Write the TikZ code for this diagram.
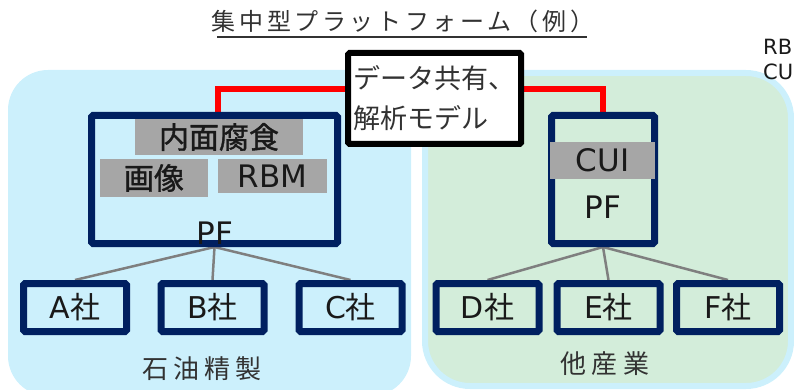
\documentclass[tikz,border=0pt]{standalone}
\usepackage{fontspec}
\setmainfont{Noto Sans CJK JP}
\newfontfamily\lat{DejaVu Sans}
\newfontfamily\semib[FakeBold=1.2]{Noto Sans CJK JP}
\newfontfamily\spaced[LetterSpace=20]{Noto Sans CJK JP}
\newfontfamily\tspaced[LetterSpace=15]{Noto Sans CJK JP}
\usetikzlibrary{calc}
\pgfdeclarelayer{back}
\pgfdeclarelayer{mid}
\pgfsetlayers{back,mid,main}
\definecolor{regblue}{RGB}{204,240,252}
\definecolor{reggreen}{RGB}{211,237,218}
\definecolor{navy}{RGB}{0,32,96}
\definecolor{tagcol}{RGB}{166,166,166}
\definecolor{linkcol}{RGB}{127,127,127}
\definecolor{ink}{RGB}{25,25,25}
\definecolor{soft}{RGB}{50,50,50}
\begin{document}
\begin{tikzpicture}[x=1pt,y=-1pt,
  pfbox/.style={draw=navy,line width=7pt,rounded corners=1.5pt,minimum height=128pt,inner sep=0pt},
  cobox/.style={draw=navy,line width=7pt,rounded corners=1.5pt,minimum width=103pt,minimum height=48pt,inner sep=0pt,text=ink,font=\fontsize{30}{32}\selectfont},
  tagbox/.style={fill=tagcol,inner sep=0pt,text=ink,font=\semib\fontsize{30}{32}\selectfont},
  sharebox/.style={draw=black,fill=white,line width=6pt,rounded corners=1.5pt,minimum width=173pt,minimum height=91pt,inner sep=0pt,align=left,text=soft,font=\fontsize{27}{40}\selectfont},
  feed/.style={draw=linkcol,line width=2.5pt},
  datalink/.style={draw=red,line width=6pt},
  pflabel/.style={text=ink,font=\lat\fontsize{31}{32}\selectfont,inner sep=0pt},
  region/.style={text=soft,font=\spaced\fontsize{26}{28}\selectfont,inner sep=0pt}
]
\useasboundingbox (0,0) rectangle (794,390);
% regions
\begin{pgfonlayer}{back}
\fill[regblue,rounded corners=40pt] (8,70) rectangle (411,396);
\filldraw[fill=reggreen,draw=regblue,line width=6pt,rounded corners=45pt] (425,73) rectangle (791,386);
\end{pgfonlayer}
% title
\node[text=soft,font=\tspaced\fontsize{24}{26}\selectfont,inner sep=0pt] (title) at (403,21) {集中型プラットフォーム（例）};
\coordinate (ulA) at (217,37);
\coordinate (ulB) at (587,37);
\draw[soft,line width=1.4pt] (ulA) -- (ulB);
\node[anchor=west,text=ink,font=\lat\fontsize{21}{22}\selectfont,inner sep=0pt] (rbcut) at (763,47) {RB};
\node[anchor=west,text=ink,font=\lat\fontsize{21}{22}\selectfont,inner sep=0pt] (cucut) at (763,72) {CU};
% platform boxes
\node[pfbox,minimum width=246pt] (pfboxL) at (214.5,179.5) {};
\node[pfbox,minimum width=103pt] (pfboxR) at (603,179.5) {};
\node[sharebox] (share) at (434.5,98.5) {データ共有、\\解析モデル};
% tags
\node[tagbox,minimum width=168pt,minimum height=36pt] (corr) at (219,137) {内面腐食};
\node[tagbox,minimum width=108pt,minimum height=38pt] (img) at (154,178) {画像};
\node[tagbox,font=\lat\fontsize{31}{32}\selectfont,minimum width=109pt,minimum height=34pt] (rbm) at (272.5,176) {RBM};
\node[tagbox,font=\lat\fontsize{31}{32}\selectfont,minimum width=105pt,minimum height=37pt] (cui) at (602.5,160.5) {CUI};
\node[pflabel] (pfL) at (215,233) {PF};
\node[pflabel] (pfR) at (603,207) {PF};
% company boxes
\node[cobox] (A) at (75,307.5) {{\lat A}社};
\node[cobox] (B) at (212.5,307.5) {{\lat B}社};
\node[cobox] (C) at (350.5,307.5) {{\lat C}社};
\node[cobox] (D) at (487.5,307.5) {{\lat D}社};
\node[cobox] (E) at (608.5,307.5) {{\lat E}社};
\node[cobox] (F) at (728,307.5) {{\lat F}社};
% region labels
\node[region] (oil) at (202,369) {石油精製};
\node[region] (other) at (605,364) {他産業};
% connectors behind boxes
\begin{pgfonlayer}{mid}
\draw[datalink] ([xshift=3.5pt]pfboxL.north) |- ([yshift=9.5pt]share.west);
\draw[datalink] ([yshift=9.5pt]share.east) -| (pfboxR.north);
\foreach \c in {A,B,C} \draw[feed] (pfboxL.south) -- (\c.north);
\foreach \c in {D,E,F} \draw[feed] (pfboxR.south) -- (\c.north);
\end{pgfonlayer}
\end{tikzpicture}
\end{document}
